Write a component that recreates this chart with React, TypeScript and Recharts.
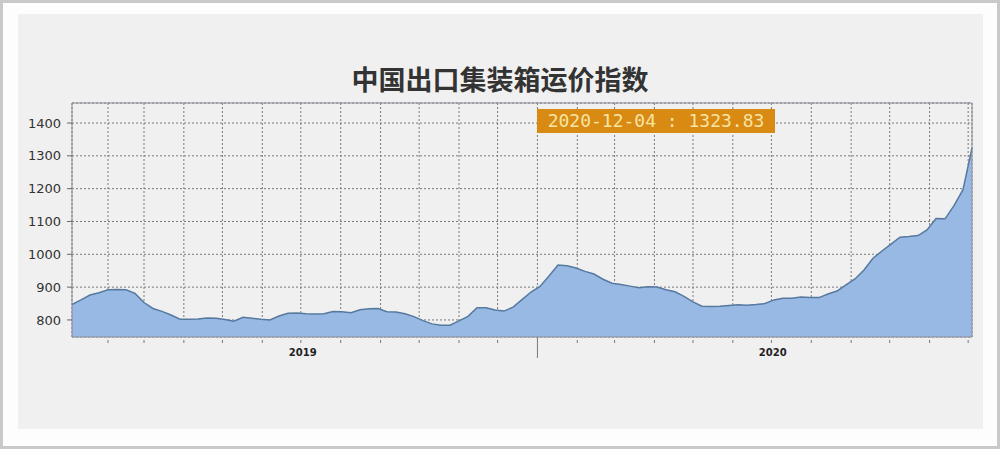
import { AreaChart, Area, XAxis, YAxis, CartesianGrid, ReferenceArea } from 'recharts';

// weekly index, one value per Friday, first Friday of 2019 onwards
const firstWeek = '2019-01-04';

const values2019 = [
  847, 861, 876, 883, 892, 893, 892, 881, 853, 835,
  826, 815, 802, 802, 803, 806, 805, 801, 796, 808,
  805, 802, 800, 812, 820, 821, 819, 818, 819, 826,
  825, 822, 831, 834, 835, 825, 824, 819, 810, 798,
  788, 784, 784, 797, 811, 837, 837, 830, 827, 839,
  862, 885,
];

const values2020 = [
  902, 934, 967, 965, 958, 948, 940, 924, 912, 908,
  903, 898, 901, 900, 892, 886, 872, 855, 842, 841,
  842, 844, 846, 845, 847, 850, 861, 866, 866, 870,
  868, 868, 879, 888, 907, 925, 952, 988, 1010, 1031,
  1052, 1054, 1057, 1074, 1109, 1108, 1148, 1197, 1323.83,
];

const yTicks = [800, 900, 1000, 1100, 1200, 1300, 1400];
const years = [2019, 2020];
const yearBoundary = '2020-01-01';

const DAY = 86400000;
const toTime = (s: string) => Date.parse(s + 'T00:00:00Z');
const pad = (n: number) => String(n).padStart(2, '0');
const fmt = (t: number) => {
  const d = new Date(t);
  return `${d.getUTCFullYear()}-${pad(d.getUTCMonth() + 1)}-${pad(d.getUTCDate())}`;
};

const data = [...values2019, ...values2020].map((v, i) => ({
  t: toTime(firstWeek) + i * 7 * DAY,
  v,
}));

const xDomain = [data[0].t, data[data.length - 1].t];

const monthTicks: number[] = [];
years.forEach((y) => {
  for (let m = 1; m <= 12; m++) {
    const t = toTime(`${y}-${pad(m)}-01`);
    if (t >= xDomain[0] && t <= xDomain[1]) monthTicks.push(t);
  }
});

// year labels sit in the middle of each year
const yearTicks = years.map((y) => (toTime(`${y}-01-01`) + toTime(`${y + 1}-01-01`)) / 2);

const last = data[data.length - 1];

function MonthTick(props: any) {
  const { x, y, payload } = props;
  const long = payload.value === toTime(yearBoundary);
  return (
    <line
      x1={x}
      x2={x}
      y1={long ? y : y + 3}
      y2={long ? y + 21 : y + 6}
      stroke="#777"
      strokeWidth={1}
    />
  );
}

export default function App() {
  return (
    <div
      style={{
        position: 'absolute',
        left: 0,
        top: 0,
        width: 1000,
        height: 449,
        boxSizing: 'border-box',
        border: '3px solid #c9c9c9',
        background: '#fdfdfd',
        fontFamily: '"DejaVu Sans", sans-serif',
      }}
    >
      <div
        style={{
          position: 'absolute',
          left: 15,
          top: 11,
          width: 965,
          height: 415,
          background: '#f0f0f0',
        }}
      />
      <div style={{ position: 'absolute', left: -3, top: -3 }}>
        <AreaChart width={1000} height={449} data={data} margin={{ top: 103, right: 28, bottom: 72, left: 0 }}>
          <CartesianGrid stroke="#7a7a7a" strokeDasharray="2 2" horizontal vertical />
          <XAxis
            dataKey="t"
            type="number"
            domain={xDomain}
            ticks={monthTicks}
            interval={0}
            height={10}
            tickSize={0}
            tickMargin={0}
            tickLine={false}
            axisLine={false}
            tick={<MonthTick />}
          />
          <XAxis
            xAxisId="year"
            dataKey="t"
            type="number"
            domain={xDomain}
            allowDataOverflow
            ticks={yearTicks}
            interval={0}
            tickFormatter={(t: number) => String(new Date(t).getUTCFullYear())}
            height={30}
            tickSize={0}
            tickMargin={2}
            tickLine={false}
            axisLine={false}
            tick={{ fill: '#222', fontSize: 10, fontWeight: 700, fontFamily: '"DejaVu Sans", sans-serif' }}
          />
          <YAxis
            type="number"
            domain={[748, 1461]}
            ticks={yTicks}
            interval={0}
            width={72}
            tickSize={5}
            tickMargin={6}
            axisLine={false}
            tickLine={{ stroke: '#666' }}
            tick={{ fill: '#333', fontSize: 13, fontFamily: '"DejaVu Sans", sans-serif' }}
          />
          <Area
            type="linear"
            dataKey="v"
            stroke="#56799f"
            strokeWidth={1.5}
            fill="#98b9e3"
            fillOpacity={1}
            isAnimationActive={false}
            dot={false}
            activeDot={false}
          />
          <ReferenceArea
            x1={xDomain[0]}
            x2={xDomain[1]}
            y1={748}
            y2={1461}
            fill="none"
            stroke="#8a8a96"
            strokeWidth={1}
          />
        </AreaChart>
      </div>
      <div
        style={{
          position: 'absolute',
          left: 0,
          top: 61,
          width: 994,
          textAlign: 'center',
          fontFamily: '"Noto Sans CJK SC", sans-serif',
          fontWeight: 700,
          fontSize: 27,
          lineHeight: '30px',
          color: '#333',
        }}
      >
        中国出口集装箱运价指数
      </div>
      <div
        style={{
          position: 'absolute',
          left: 534,
          top: 106,
          width: 238,
          height: 24,
          background: '#d98a12',
          color: '#f6e5a4',
          fontFamily: '"DejaVu Sans Mono", monospace',
          fontSize: 18,
          lineHeight: '24px',
          textAlign: 'center',
          whiteSpace: 'pre',
        }}
      >
        {`${fmt(last.t)} : ${last.v.toFixed(2)}`}
      </div>
    </div>
  );
}
